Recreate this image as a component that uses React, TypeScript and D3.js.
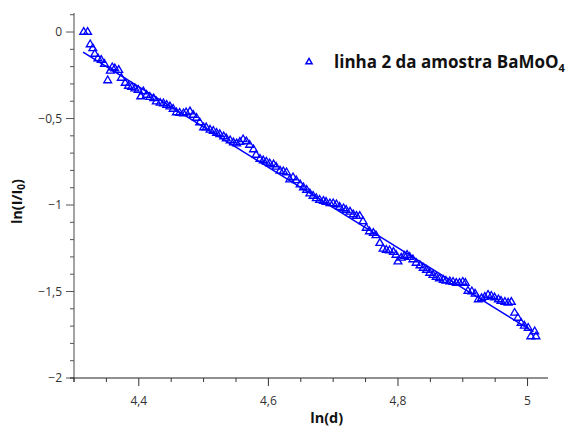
import React from "react";
import * as d3 from "d3";

const lnD: number[] = [
  4.315, 4.321, 4.325, 4.329, 4.332, 4.337, 4.342, 4.347, 4.352, 4.356,
  4.359, 4.363, 4.369, 4.373, 4.379, 4.384, 4.389, 4.394, 4.399, 4.403,
  4.407, 4.412, 4.417, 4.423, 4.427, 4.433, 4.438, 4.443, 4.448, 4.453,
  4.458, 4.463, 4.469, 4.473, 4.479, 4.484, 4.489, 4.494, 4.5, 4.504,
  4.51, 4.515, 4.52, 4.525, 4.531, 4.535, 4.541, 4.546, 4.551, 4.556,
  4.561, 4.566, 4.571, 4.577, 4.581, 4.587, 4.592, 4.597, 4.602, 4.608,
  4.612, 4.618, 4.623, 4.628, 4.633, 4.638, 4.643, 4.649, 4.654, 4.659,
  4.664, 4.669, 4.674, 4.679, 4.685, 4.689, 4.695, 4.7, 4.705, 4.71,
  4.716, 4.72, 4.726, 4.731, 4.736, 4.741, 4.746, 4.751, 4.756, 4.762,
  4.766, 4.772, 4.777, 4.782, 4.787, 4.793, 4.797, 4.8, 4.805, 4.81,
  4.814, 4.818, 4.823, 4.828, 4.834, 4.839, 4.844, 4.849, 4.854, 4.859,
  4.864, 4.87, 4.874, 4.88, 4.885, 4.89, 4.895, 4.9, 4.904, 4.908,
  4.914, 4.919, 4.924, 4.929, 4.934, 4.939, 4.944, 4.949, 4.955, 4.959,
  4.965, 4.97, 4.975, 4.98, 4.985, 4.99, 4.995, 5.001, 5.005, 5.011, 5.013,
];

const lnI: number[] = [
  0, 0, -0.072, -0.095, -0.127, -0.153, -0.162, -0.185, -0.28, -0.225,
  -0.205, -0.211, -0.22, -0.266, -0.295, -0.312, -0.318, -0.327, -0.335, -0.373,
  -0.344, -0.364, -0.376, -0.384, -0.402, -0.41, -0.413, -0.422, -0.431, -0.445,
  -0.465, -0.468, -0.471, -0.465, -0.46, -0.48, -0.497, -0.523, -0.552, -0.552,
  -0.566, -0.572, -0.584, -0.592, -0.604, -0.616, -0.627, -0.639, -0.645, -0.636,
  -0.621, -0.633, -0.653, -0.679, -0.711, -0.734, -0.743, -0.751, -0.76, -0.766,
  -0.78, -0.803, -0.806, -0.812, -0.853, -0.841, -0.858, -0.882, -0.899, -0.913,
  -0.934, -0.948, -0.962, -0.971, -0.977, -0.983, -0.991, -0.991, -0.997, -1.012,
  -1.02, -1.029, -1.04, -1.055, -1.064, -1.064, -1.095, -1.133, -1.153, -1.162,
  -1.176, -1.22, -1.254, -1.26, -1.263, -1.272, -1.289, -1.327, -1.306, -1.295,
  -1.289, -1.301, -1.315, -1.335, -1.35, -1.364, -1.376, -1.393, -1.405, -1.416,
  -1.425, -1.434, -1.439, -1.442, -1.445, -1.451, -1.451, -1.445, -1.451, -1.497,
  -1.5, -1.514, -1.546, -1.54, -1.532, -1.52, -1.526, -1.535, -1.546, -1.555,
  -1.561, -1.566, -1.561, -1.624, -1.653, -1.682, -1.699, -1.711, -1.76, -1.731, -1.76,
];

const fitX: number[] = [4.314, 5.009];
const fitY: number[] = [-0.116, -1.734];

const xMajor: number[] = [4.4, 4.6, 4.8, 5.0];
const xMinor: number[] = [4.3, 4.35, 4.45, 4.5, 4.55, 4.65, 4.7, 4.75, 4.85, 4.9, 4.95];
const yMajor: number[] = [0, -0.5, -1, -1.5, -2];
const yMinor: number[] = [0.1, -0.1, -0.2, -0.3, -0.4, -0.6, -0.7, -0.8, -0.9, -1.1, -1.2, -1.3, -1.4, -1.6, -1.7, -1.8, -1.9];

const W = 569;
const H = 428;
const BLUE = "#0000ff";
const FONT = "'Open Sans', 'Noto Sans', sans-serif";

const fmt = (v: number) => {
  const s = d3.format("~g")(v);
  return s.replace(".", ",").replace("-", "\u2212");
};

export default function App() {
  const x = d3.scaleLinear().domain([4.3, 5.03]).range([74, 547]);
  const y = d3.scaleLinear().domain([-2, 0.11]).range([378, 13]);
  const tri = d3.symbol().type(d3.symbolTriangle).size(26)();
  const triLegend = d3.symbol().type(d3.symbolTriangle).size(16)();
  const fitLine = d3
    .line<number>()
    .x((_, i) => x(fitX[i]))
    .y((_, i) => y(fitY[i]))(fitX.map((_, i) => i));

  return (
    <svg
      width={W}
      height={H}
      style={{ position: "absolute", left: 0, top: 0, background: "#fff" }}
      fontFamily={FONT}
    >
      {/* Y axis */}
      <line x1={74} x2={74} y1={13} y2={382} stroke="#666" strokeWidth={1.2} />
      {yMajor.map((v) => (
        <g key={"ym" + v}>
          <line x1={66} x2={74} y1={y(v)} y2={y(v)} stroke="#555" strokeWidth={1} />
          <text x={62} y={y(v)} dy="0.35em" textAnchor="end" fontSize={12} fill="#333">
            {fmt(v)}
          </text>
        </g>
      ))}
      {yMinor.map((v) => (
        <line key={"yn" + v} x1={70} x2={74} y1={y(v)} y2={y(v)} stroke="#555" strokeWidth={1} />
      ))}

      {/* X axis */}
      <line x1={70} x2={548} y1={378} y2={378} stroke="#222" strokeWidth={1.2} />
      {xMajor.map((v) => (
        <g key={"xm" + v}>
          <line x1={x(v)} x2={x(v)} y1={378} y2={386} stroke="#333" strokeWidth={1} />
          <text x={x(v)} y={405} textAnchor="middle" fontSize={12} fill="#333">
            {fmt(v)}
          </text>
        </g>
      ))}
      {xMinor.map((v) => (
        <line key={"xn" + v} x1={x(v)} x2={x(v)} y1={378} y2={382} stroke="#333" strokeWidth={1} />
      ))}

      {/* Axis titles */}
      <text x={x(4.69)} y={423} textAnchor="middle" fontSize={14.5} fontWeight="bold" fill="#111">
        ln(d)
      </text>
      <text
        transform={`translate(22,${y(-0.98)}) rotate(-90)`}
        textAnchor="middle"
        fontSize={14.5}
        fontWeight="bold"
        fill="#111"
      >
        ln(I/I<tspan fontSize={10} dy={3}>0</tspan>
        <tspan dy={-3}>)</tspan>
      </text>

      {/* Fit line */}
      <path d={fitLine ?? ""} fill="none" stroke={BLUE} strokeWidth={1.5} />

      {/* Data points */}
      {lnD.map((d, i) => (
        <path
          key={"p" + i}
          d={tri ?? ""}
          transform={`translate(${x(d)},${y(lnI[i])})`}
          fill="none"
          stroke={BLUE}
          strokeWidth={1.35}
        />
      ))}

      {/* Legend */}
      <path d={triLegend ?? ""} transform="translate(309,62)" fill="none" stroke={BLUE} strokeWidth={1.5} />
      <text x={334} y={68} fontSize={17} fontWeight="bold" fill="#111">
        linha 2 da amostra BaMoO<tspan fontSize={11} dy={4}>4</tspan>
      </text>
    </svg>
  );
}
